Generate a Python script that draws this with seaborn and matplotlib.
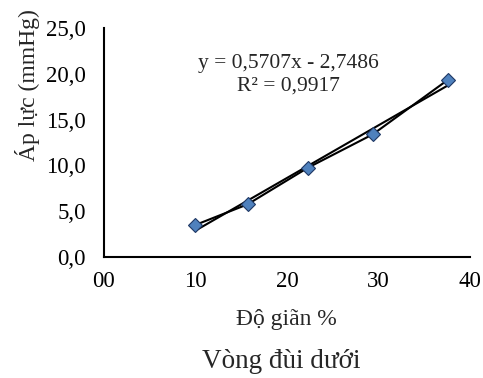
import matplotlib
matplotlib.use("Agg")
import matplotlib.pyplot as plt
import seaborn as sns
import pandas as pd

# data
do_gian = [10.0, 15.7, 22.3, 29.4, 37.6]
ap_luc = [3.5, 5.75, 9.75, 13.4, 19.35]
x_ticks = [0, 10, 20, 30, 40]
x_tick_labels = ["00", "10", "20", "30", "40"]
y_ticks = [0, 5, 10, 15, 20, 25]
y_tick_labels = ["0,0", "5,0", "10,0", "15,0", "20,0", "25,0"]
equation = "y = 0,5707x - 2,7486"
r2_text = "R² = 0,9917"

sns.set_style("white")
plt.rcParams['font.family'] = ['Liberation Serif', 'DejaVu Serif']

df = pd.DataFrame({"x": do_gian, "y": ap_luc})

fig = plt.figure(figsize=(4.83, 3.78), dpi=100)
ax = fig.add_axes([0.215, 0.32, 0.758, 0.606])

sns.regplot(data=df, x="x", y="y", ax=ax, ci=None, scatter=False, truncate=True,
            line_kws=dict(color="black", lw=1.5))
sns.lineplot(data=df, x="x", y="y", ax=ax, color="black", lw=1.5,
             marker="D", markersize=7, markerfacecolor="#4F81BD",
             markeredgecolor="#1F3864", markeredgewidth=0.8)

ax.set_xlim(0, 40)
ax.set_ylim(0, 25)
ax.set_xticks(x_ticks)
ax.set_xticklabels(x_tick_labels, fontsize=16.5)
ax.set_yticks(y_ticks)
ax.set_yticklabels(y_tick_labels, fontsize=16.5)
ax.set_xlabel("")
ax.set_ylabel("")
for s in ["top", "right"]:
    ax.spines[s].set_visible(False)
for s in ["left", "bottom"]:
    ax.spines[s].set_color("black")
    ax.spines[s].set_linewidth(1.5)
ax.tick_params(axis="y", direction="out", length=3.5, width=1.3, colors="black", pad=9.5)
ax.tick_params(axis="x", direction="in", length=4, width=1.3, colors="black", pad=10)
ax.tick_params(labelcolor="black")
ax.grid(False)

ax.text(0.505, 0.845, equation, transform=ax.transAxes, ha="center", va="center", fontsize=15.5)
ax.text(0.505, 0.745, r2_text, transform=ax.transAxes, ha="center", va="center", fontsize=15.5)

fig.text(28/483, 1 - 85/378, "Áp lực (mmHg)", rotation=90, ha="center", va="center", fontsize=17)
fig.text(286.5/483, 1 - 320/378, "Độ giãn %", ha="center", va="center", fontsize=17)
fig.text(281.5/483, 1 - 361/378, "Vòng đùi dưới", ha="center", va="center", fontsize=19.5)

fig.savefig("out.png", dpi=100, facecolor="white")
